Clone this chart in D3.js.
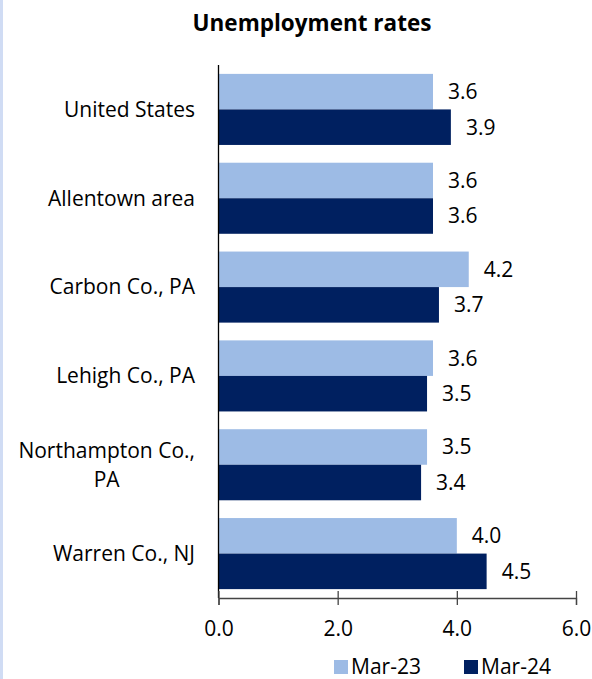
<!DOCTYPE html>
<html><head><meta charset="utf-8">
<script src="https://cdn.jsdelivr.net/npm/d3@7"></script>
<style>
html,body{margin:0;padding:0;background:#fff;}
svg{display:block;}
text{font-family:"Open Sans",sans-serif;fill:#000;}
</style></head>
<body>
<script>
const categories = ["United States","Allentown area","Carbon Co., PA","Lehigh Co., PA","Northampton Co., PA","Warren Co., NJ"];
const categoryLines = [["United States"],["Allentown area"],["Carbon Co., PA"],["Lehigh Co., PA"],["Northampton Co.,","PA"],["Warren Co., NJ"]];
const seriesNames = ["Mar-23","Mar-24"];
const mar23 = [3.6,3.6,4.2,3.6,3.5,4.0];
const mar24 = [3.9,3.6,3.7,3.5,3.4,4.5];
const xTicks = [0,2,4,6];
const colors = ["#9dbbe5","#002060"];

(function(){
const W=592,H=679,FS="21px",FONT="'Open Sans',sans-serif";
const svg=d3.select("body").append("svg").attr("width",W).attr("height",H);
svg.append("rect").attr("x",0).attr("y",0).attr("width",3).attr("height",H).attr("fill","#d0dcf4");

const pL=218.5,pR=576,pT=65,pB=598;
const x=d3.scaleLinear().domain([0,6]).range([pL,pR]);
const y=d3.scaleBand().domain(categories).range([pT,pB]).paddingInner(0.2).paddingOuter(0.1);
const y1=d3.scaleBand().domain(seriesNames).range([0,y.bandwidth()]);

svg.append("text").attr("x",312).attr("y",31).attr("text-anchor","middle")
  .style("font-weight","bold").style("font-size","22.5px").text("Unemployment rates");

const data=categories.map((c,i)=>({c,vals:[mar23[i],mar24[i]]}));
const g=svg.append("g");
data.forEach(d=>{
  d.vals.forEach((v,j)=>{
    const yy=y(d.c)+y1(seriesNames[j]);
    g.append("rect").attr("x",x(0)).attr("y",yy).attr("width",x(v)-x(0)).attr("height",y1.bandwidth())
      .attr("fill",colors[j]);
    g.append("text").attr("x",x(v)+15).attr("y",yy+y1.bandwidth()/2).attr("dy","0.35em")
      .style("font-size",FS).text(v.toFixed(1));
  });
});

svg.append("line").attr("x1",pL).attr("x2",pL).attr("y1",pT).attr("y2",pB).attr("stroke","#000").attr("stroke-width",1.3);

const xa=svg.append("g").attr("transform",`translate(0,${pB})`)
  .call(d3.axisBottom(x).tickValues(xTicks).tickFormat(d3.format(".1f")).tickSize(7).tickPadding(16));
xa.select(".domain").attr("stroke","#444").attr("stroke-width",1.3);
xa.selectAll(".tick line").attr("y1",-7).attr("stroke","#444").attr("stroke-width",1.3);
xa.selectAll(".tick text").style("font-size",FS).style("font-family",FONT).attr("fill","#000");

categories.forEach((c,i)=>{
  const lines=categoryLines[i];
  const cy=y(c)+y.bandwidth()/2;
  const t=svg.append("text").style("font-size",FS);
  const lh=29;
  lines.forEach((ln,k)=>{
    t.append("tspan").attr("x",0).attr("y",cy+(k-(lines.length-1)/2)*lh).attr("dy","0.35em").text(ln);
  });
  let maxW=0;
  t.selectAll("tspan").each(function(){maxW=Math.max(maxW,this.getComputedTextLength());});
  t.attr("text-anchor","middle").selectAll("tspan").attr("x",195-maxW/2);
});

const lg=svg.append("g");
const lx=[334,464];
seriesNames.forEach((s,j)=>{
  lg.append("rect").attr("x",lx[j]).attr("y",660).attr("width",14).attr("height",14).attr("fill",colors[j]);
  lg.append("text").attr("x",lx[j]+17).attr("y",667).attr("dy","0.35em").style("font-size",FS).text(s);
});
})();
</script>
</body></html>
